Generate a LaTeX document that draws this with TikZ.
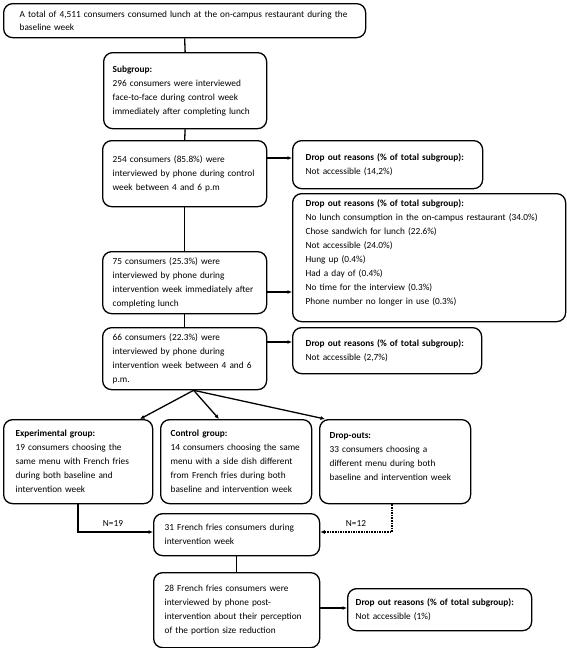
\documentclass[tikz,border=0pt]{standalone}
\usepackage{fontspec}
\setmainfont{Carlito}
\usetikzlibrary{arrows.meta,calc}
\tikzset{
  box/.style={draw, line width=1.3pt, rounded corners=9pt, align=left, anchor=north west,
    inner ysep=0pt, font=\fontsize{9.3}{14}\selectfont},
  conn/.style={line width=1.3pt},
  arr/.style={line width=1.3pt, -{Latex[length=4.5pt,width=4pt]}},
  dots/.style={line width=1.8pt, dash pattern=on 1.6pt off 1pt, -{Latex[length=4.5pt,width=4pt]}},
  lbl/.style={font=\fontsize{9.3}{11}\selectfont, inner sep=0pt}
}
\begin{document}
\begin{tikzpicture}[x=1pt,y=-1pt]
\useasboundingbox (0,0) rectangle (567,648);
% main column
\node[box, font=\fontsize{9.3}{12.5}\selectfont, inner xsep=16pt, minimum width=362pt, minimum height=34pt, text width=330pt] (top) at (3,3)
 {A total of 4,511 consumers consumed lunch at the on-campus restaurant during the\\baseline week};
\node[box, inner xsep=9pt, minimum width=163pt, minimum height=76pt, text width=145pt] (sub) at (103,52)
 {\textbf{Subgroup:}\\296 consumers were interviewed\\face-to-face during control week\\immediately after completing lunch};
\node[box, inner xsep=10pt, minimum width=164pt, minimum height=66pt, text width=144pt] (b254) at (102,140)
 {254 consumers (85.8\%) were\\interviewed by phone during control\\week between 4 and 6 p.m};
\node[box, inner xsep=10pt, minimum width=164pt, minimum height=62pt, text width=144pt] (b75) at (102,251)
 {75 consumers (25.3\%) were\\interviewed by phone during\\intervention week immediately after\\completing lunch};
\node[box, inner xsep=10pt, minimum width=164pt, minimum height=62pt, text width=144pt] (b66) at (102,327)
 {66 consumers (22.3\%) were\\interviewed by phone during\\intervention week between 4 and 6\\p.m.};
% drop-out boxes
\node[box, inner xsep=13pt, minimum width=190pt, minimum height=48pt, text width=164pt] (d1) at (292,140)
 {\textbf{Drop out reasons (\% of total subgroup):}\\Not accessible (14,2\%)};
\node[box, inner xsep=13pt, inner ysep=6.5pt, minimum width=273pt, text width=247pt, text height=6.5pt, text depth=108.5pt] (d2) at (292,193)
 {\textbf{Drop out reasons (\% of total subgroup):}\\No lunch consumption in the on-campus restaurant (34.0\%)\\Chose sandwich for lunch (22.6\%)\\Not accessible (24.0\%)\\Hung up (0.4\%)\\Had a day of (0.4\%)\\No time for the interview (0.3\%)\\Phone number no longer in use (0.3\%)};
\node[box, inner xsep=13pt, minimum width=189pt, minimum height=46pt, text width=163pt] (d3) at (292,327)
 {\textbf{Drop out reasons (\% of total subgroup):}\\Not accessible (2,7\%)};
% groups
\node[box, inner xsep=12pt, minimum width=149pt, minimum height=84pt, text width=125pt] (exp) at (3,419)
 {\textbf{Experimental group:}\\19 consumers choosing the\\same menu with French fries\\during both baseline and\\intervention week};
\node[box, inner xsep=10pt, minimum width=151pt, minimum height=84pt, text width=131pt] (ctl) at (160,419)
 {\textbf{Control group:}\\14 consumers choosing the same\\menu with a side dish different\\from French fries during both\\baseline and intervention week};
\node[box, inner xsep=10pt, inner ysep=12.5pt, minimum width=151pt, text width=131pt, text height=6.5pt, text depth=52.5pt] (dro) at (319,419)
 {\textbf{Drop-outs:}\\33 consumers choosing a\\different menu during both\\baseline and intervention week};
% bottom
\node[box, inner xsep=11pt, minimum width=166pt, minimum height=42pt, text width=144pt] (b31) at (153,513)
 {31 French fries consumers during\\intervention week};
\node[box, inner xsep=11pt, minimum width=166pt, minimum height=75pt, text width=144pt] (b28) at (153,572)
 {28 French fries consumers were\\interviewed by phone post-\\intervention about their perception\\of the portion size reduction};
\node[box, inner xsep=8pt, minimum width=184pt, minimum height=42pt, text width=168pt] (d4) at (347,588)
 {\textbf{Drop out reasons (\% of total subgroup):}\\Not accessible (1\%)};
% connectors
\draw[conn] (top.south) -- (sub.north);
\draw[conn] (sub.south) -- (b254.north);
\draw[conn] (b254.south) -- (b75.north);
\draw[conn] (b75.south) -- (b66.north);
\draw[arr] (b254.east |- 0,158) -- (d1.west |- 0,158);
\draw[arr] (b75.east |- 0,292) -- (d2.west |- 0,292);
\draw[arr] (b66.east |- 0,342) -- (d3.west |- 0,342);
\coordinate (fan) at ($(b66.south)+(9,0)$);
\draw[arr] (fan) -- (exp.north -| 140,0);
\draw[arr] (fan) -- (ctl.north -| 219,0);
\draw[arr] (fan) -- (dro.north -| 325,0);
\draw[arr] (exp.south -| 78,0) |- (b31.west |- 0,532);
\draw[dots] (dro.south -| 392,0) |- (b31.east |- 0,532);
\node[lbl] (n19) at (113,523) {N=19};
\node[lbl] (n12) at (356,523) {N=12};
\draw[conn] (b31.south) -- (b28.north);
\draw[arr] (b28.east |- 0,608) -- (d4.west |- 0,608);
\end{tikzpicture}
\end{document}
